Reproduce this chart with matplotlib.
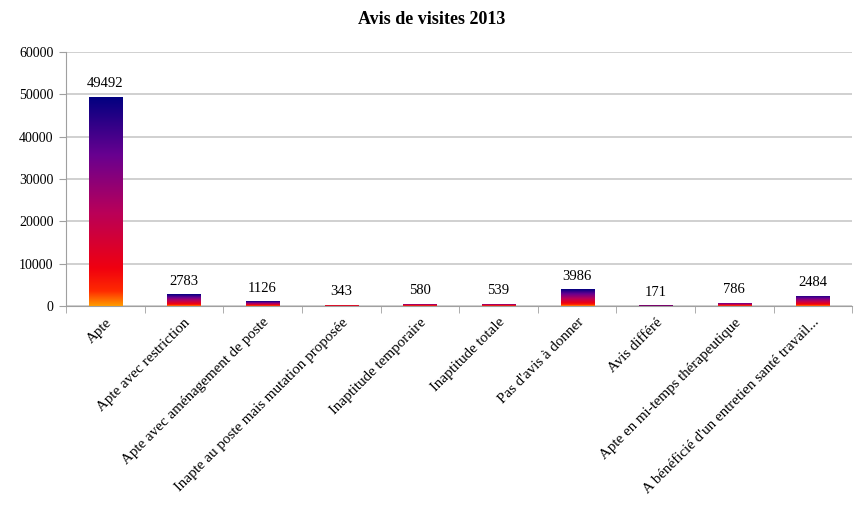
import numpy as np
import matplotlib.pyplot as plt
from matplotlib.colors import LinearSegmentedColormap

categories = ["Apte", "Apte avec restriction", "Apte avec aménagement de poste",
              "Inapte au poste mais mutation proposée", "Inaptitude temporaire",
              "Inaptitude totale", "Pas d'avis à donner", "Avis différé",
              "Apte en mi-temps thérapeutique",
              "A bénéficié d'un entretien santé travail..."]
values = [49492, 2783, 1126, 343, 580, 539, 3986, 171, 786, 2484]
yticks = [0, 10000, 20000, 30000, 40000, 50000, 60000]

plt.rcParams['font.family'] = ['Liberation Serif', 'DejaVu Serif']

# degradé type Excel : orange en bas, rouge, pourpre, bleu marine en haut
cmap = LinearSegmentedColormap.from_list("couchant", [
    (0.0, '#FF9A00'), (0.07, '#FF2A00'), (0.18, '#F00010'),
    (0.45, '#B8005A'), (0.72, '#680090'), (1.0, '#000080')])

fig = plt.figure(figsize=(8.64, 5.05), dpi=100)
ax = fig.add_axes([0.0764, 0.394, 0.910, 0.503])

x = np.arange(len(categories))
w = 0.42
bars = ax.bar(x, values, width=w, color='none', edgecolor='none', zorder=3)
grad = np.linspace(0, 1, 256).reshape(-1, 1)
for b, v in zip(bars, values):
    im = ax.imshow(grad, cmap=cmap, origin='lower', aspect='auto',
                   extent=[b.get_x(), b.get_x() + w, 0, v], zorder=3)
    im.set_clip_path(b)
    ax.text(b.get_x() + w / 2, v + 1500, str(v), ha='center', va='bottom',
            fontsize=10.5)

ax.set_xlim(-0.5, len(categories) - 0.5)
ax.set_ylim(0, 60000)
ax.set_yticks(yticks)
ax.set_yticklabels([str(t) for t in yticks], fontsize=10)
ax.yaxis.grid(True, color='#C8C8C8', linewidth=1.2, zorder=0)
ax.set_axisbelow(True)

ax.set_xticks(x)
ax.set_xticklabels(categories, rotation=45, ha='right', rotation_mode='anchor',
                   fontsize=10.8)
ax.set_xticks(np.arange(len(categories) + 1) - 0.5, minor=True)
ax.tick_params(axis='x', which='major', length=0, pad=7)
ax.tick_params(axis='x', which='minor', length=5, color='#A0A0A0')
ax.tick_params(axis='y', length=5, color='#A0A0A0', pad=4)

for s in ['top', 'right']:
    ax.spines[s].set_visible(False)
for s in ['left', 'bottom']:
    ax.spines[s].set_color('#A0A0A0')

fig.suptitle("Avis de visites 2013", fontsize=13, fontweight='bold', y=0.978)

fig.savefig("out.png", dpi=100)
